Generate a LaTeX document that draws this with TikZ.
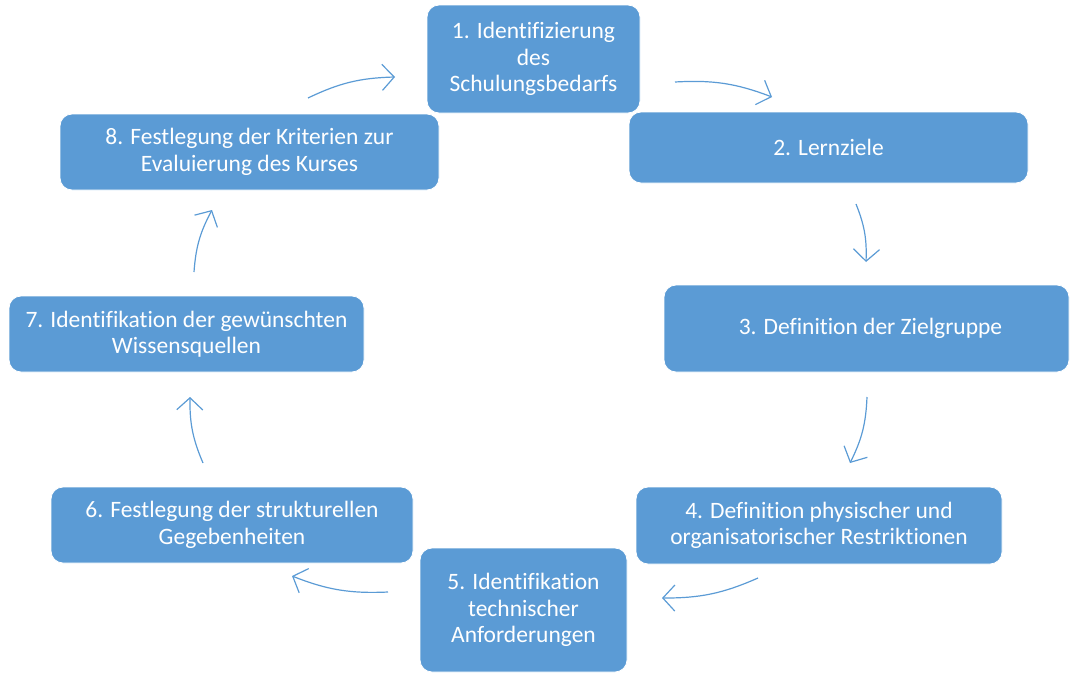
\documentclass[tikz,border=0pt]{standalone}
\usepackage{fontspec}
\setmainfont[Ligatures=NoCommon]{Carlito}
\usetikzlibrary{arrows.meta}
\definecolor{boxblue}{HTML}{5B9BD5}
\tikzset{
  box/.style={draw=white, line width=0.8pt, fill=boxblue, rounded corners=12pt,
    text=white, align=center, font=\fontsize{23.5}{26.5}\selectfont, inner sep=0pt},
  flow/.style={draw=boxblue, line width=1.2pt, bend left=12,
    -{Straight Barb[length=12pt,width=26pt,line width=1.2pt]}}
}
\begin{document}
\begin{tikzpicture}[x=1pt,y=-1pt]
\useasboundingbox (0,0) rectangle (1070,672);
% boxes (centre, width, height in px)
\node[box, minimum width=213, minimum height=108] (b1) at (533.5,59) {1. Identifizierung\\des\\Schulungsbedarfs};
\node[box, minimum width=399, minimum height=71] (b2) at (828.5,147.5) {2. Lernziele};
\node[box, minimum width=405, minimum height=87] (b3) at (866.5,328.5) {\hspace*{8pt}3. Definition der Zielgruppe};
\node[box, minimum width=366, minimum height=77] (b4) at (819,525.5) {4. Definition physischer und\\organisatorischer Restriktionen};
\node[box, minimum width=207, minimum height=124] (b5) at (523.5,610) {5. Identifikation\\technischer\\Anforderungen};
\node[box, minimum width=362, minimum height=76] (b6) at (232,525) {6. Festlegung der strukturellen\\Gegebenheiten};
\node[box, minimum width=355, minimum height=76] (b7) at (186.5,334) {7. Identifikation der gewünschten\\Wissensquellen};
\node[box, minimum width=379, minimum height=76] (b8) at (249.5,152) {8. Festlegung der Kriterien zur\\Evaluierung des Kurses};
% connector end points
\coordinate (a1s) at (308,98);  \coordinate (a1e) at (395,77);
\coordinate (a2s) at (675,82);  \coordinate (a2e) at (772,97);
\coordinate (a3s) at (856,204); \coordinate (a3e) at (866,262);
\coordinate (a4s) at (867,397); \coordinate (a4e) at (850,463);
\coordinate (a5s) at (758,578); \coordinate (a5e) at (662,598);
\coordinate (a6s) at (388,592); \coordinate (a6e) at (292,576);
\coordinate (a7s) at (203,463); \coordinate (a7e) at (190,397);
\coordinate (a8s) at (194,272); \coordinate (a8e) at (212,210);
\draw[flow] (a1s) to (a1e);
\draw[flow] (a2s) to (a2e);
\draw[flow] (a3s) to (a3e);
\draw[flow] (a4s) to (a4e);
\draw[flow] (a5s) to (a5e);
\draw[flow] (a6s) to (a6e);
\draw[flow] (a7s) to (a7e);
\draw[flow] (a8s) to (a8e);
\end{tikzpicture}
\end{document}
